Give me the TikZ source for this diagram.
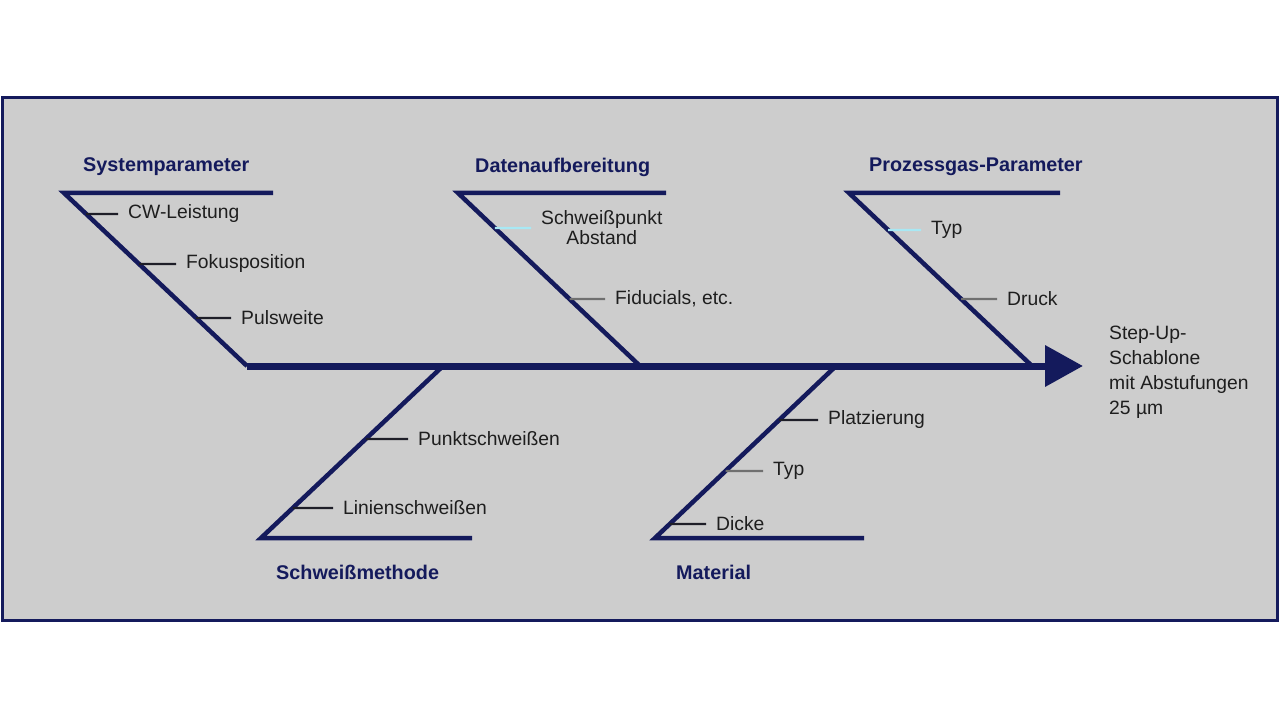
\documentclass[tikz,border=0pt]{standalone}
\usepackage{fontspec}
\setmainfont{Liberation Sans}
\usetikzlibrary{arrows.meta}
\definecolor{navy}{HTML}{141A5C}
\definecolor{panel}{HTML}{CDCDCD}
\definecolor{txt}{HTML}{1E1E1E}
\definecolor{ribcyan}{HTML}{A8E8F4}
\definecolor{ribgray}{HTML}{707070}
\definecolor{ribdark}{HTML}{1E1E28}
\begin{document}
\begin{tikzpicture}[x=1pt,y=-1pt,
  title/.style={font=\fontsize{19.8}{23}\selectfont\bfseries, text=navy, inner sep=0pt, anchor=west},
  item/.style={font=\fontsize{19.3}{21}\selectfont, text=txt, inner sep=0pt, anchor=west},
  bone/.style={draw=navy, line width=4.5pt, line join=miter},
  rib/.style={line width=2.2pt, shorten >=10pt},
  frame/.style={draw=navy, line width=3pt, fill=panel},
]
\useasboundingbox (0,0) rectangle (1280,719);
\fill[white] (0,0) rectangle (1280,719);
\draw[frame] (2,98) rectangle (1277,620);

% spine
\coordinate (spine0) at (247,366);
\coordinate (tip) at (1083,366);
\draw[navy, line width=7pt, -{Triangle[length=38pt,width=40pt]}] (spine0) -- (tip);

% bone coordinates
\coordinate (Ac) at (64,193);  \coordinate (Ae) at (273,193);  \coordinate (Af) at (247,366);
\coordinate (Bc) at (458,193); \coordinate (Be) at (666,193);  \coordinate (Bf) at (640,366);
\coordinate (Cc) at (849,193); \coordinate (Ce) at (1060,193); \coordinate (Cf) at (1032,366);
\coordinate (Df) at (443,366); \coordinate (Dc) at (261,538);  \coordinate (De) at (472,538);
\coordinate (Ef) at (836,366); \coordinate (Ec) at (655,538);  \coordinate (Ee) at (864,538);

\draw[bone] (Ae) -- (Ac) -- (Af);
\draw[bone] (Be) -- (Bc) -- (Bf);
\draw[bone] (Ce) -- (Cc) -- (Cf);
\draw[bone] (Df) -- (Dc) -- (De);
\draw[bone] (Ef) -- (Ec) -- (Ee);

% titles
\node[title] (tA) at (83,167) {Systemparameter};
\node[title] (tB) at (475,167) {Datenaufbereitung};
\node[title] (tC) at (869,167) {Prozessgas-Parameter};
\node[title] (tD) at (276,572) {Schweißmethode};
\node[title] (tE) at (676,572) {Material};

% items
\node[item] (a1) at (128,214) {CW-Leistung};
\node[item] (a2) at (186,264) {Fokusposition};
\node[item] (a3) at (241,318) {Pulsweite};
\node[item, align=center, font=\fontsize{19.3}{20}\selectfont] (b1) at (541,228) {Schweißpunkt\\Abstand};
\node[item] (b2) at (615,299) {Fiducials, etc.};
\node[item] (c1) at (931,230) {Typ};
\node[item] (c2) at (1007,299) {Druck};
\node[item] (d1) at (418,439) {Punktschweißen};
\node[item] (d2) at (343,508) {Linienschweißen};
\node[item] (e1) at (828,420) {Platzierung};
\node[item] (e2) at (773,471) {Typ};
\node[item] (e3) at (716,524) {Dicke};

\node[item, align=left, font=\fontsize{19.3}{25}\selectfont] (goal) at (1109,372) {Step-Up-\\Schablone\\mit Abstufungen\\25 µm};

% ribs
\draw[rib, ribdark] (intersection of Ac--Af and a1.west--a1.east) -- (a1.west);
\draw[rib, ribdark] (intersection of Ac--Af and a2.west--a2.east) -- (a2.west);
\draw[rib, ribdark] (intersection of Ac--Af and a3.west--a3.east) -- (a3.west);
\draw[rib, ribcyan] (intersection of Bc--Bf and b1.west--b1.east) -- (b1.west);
\draw[rib, ribgray] (intersection of Bc--Bf and b2.west--b2.east) -- (b2.west);
\draw[rib, ribcyan] (intersection of Cc--Cf and c1.west--c1.east) -- (c1.west);
\draw[rib, ribgray] (intersection of Cc--Cf and c2.west--c2.east) -- (c2.west);
\draw[rib, ribdark] (intersection of Df--Dc and d1.west--d1.east) -- (d1.west);
\draw[rib, ribdark] (intersection of Df--Dc and d2.west--d2.east) -- (d2.west);
\draw[rib, ribdark] (intersection of Ef--Ec and e1.west--e1.east) -- (e1.west);
\draw[rib, ribgray] (intersection of Ef--Ec and e2.west--e2.east) -- (e2.west);
\draw[rib, ribdark] (intersection of Ef--Ec and e3.west--e3.east) -- (e3.west);
\end{tikzpicture}
\end{document}
